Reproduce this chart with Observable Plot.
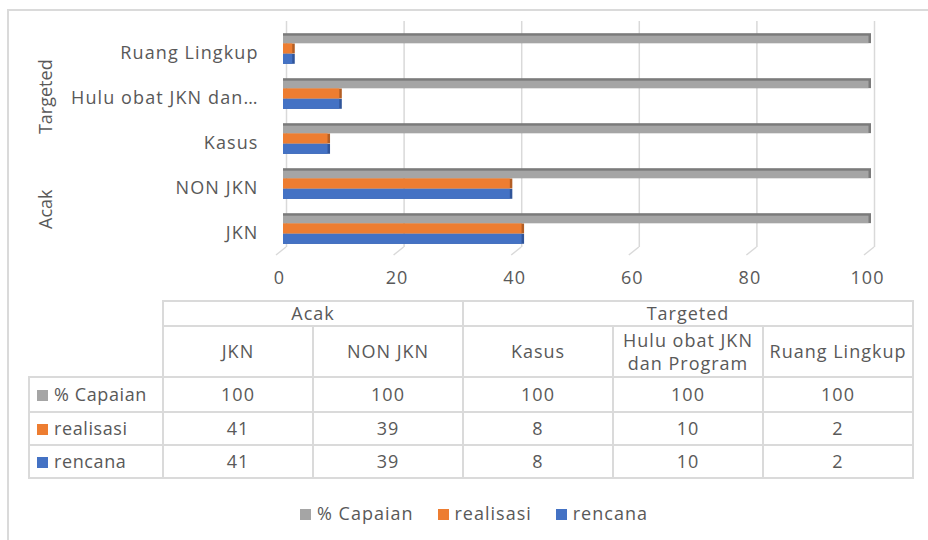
<!DOCTYPE html>
<html><head><meta charset="utf-8">
<script src="https://cdn.jsdelivr.net/npm/d3@7"></script>
<script src="https://cdn.jsdelivr.net/npm/@observablehq/plot@0.6"></script>
<style>
body{margin:0;background:#fff;font-family:"Open Sans",sans-serif;color:#595959;}
#wrap{position:relative;width:928px;height:540px;overflow:hidden;background:#fff}
#frame{position:absolute;left:7px;top:9px;width:1000px;height:1000px;border:2px solid #dadada;box-sizing:border-box}
#chart{position:absolute;left:0;top:0}
#tbl{position:absolute;left:28px;top:300px;border-collapse:collapse;font-size:18px;letter-spacing:1px;table-layout:fixed;color:#595959}
#tbl td{border:2px solid #dadada;text-align:center;padding:0 3px;line-height:23px}
#tbl td.blank{border:none}
#tbl td.lab{text-align:left;padding-left:7px;white-space:nowrap;letter-spacing:0.6px}
.sw{display:inline-block;width:11px;height:11px;margin-right:6px;vertical-align:0px}
#legend{position:absolute;left:300px;top:501px;font-size:18px;letter-spacing:1px;display:flex;gap:24px;white-space:nowrap}
</style></head>
<body>
<div id="wrap">
<div id="frame"></div>
<div id="chart"></div>
<table id="tbl"></table>
<div id="legend"></div>
</div>
<script>
const groups = ["Acak","Acak","Targeted","Targeted","Targeted"];
const categories = ["JKN","NON JKN","Kasus","Hulu obat JKN dan Program","Ruang Lingkup"];
const axisLabels = ["JKN","NON JKN","Kasus","Hulu obat JKN dan…","Ruang Lingkup"];
const series = ["% Capaian","realisasi","rencana"];
const capaian = [100,100,100,100,100];
const realisasi = [41,39,8,10,2];
const rencana = [41,39,8,10,2];
const colors = ["#A5A5A5","#ED7D31","#4472C4"];
const darkColors = ["#7B7B7B","#B35E24","#30559A"];
const xTicks = [0,20,40,60,80,100];

const values = [capaian, realisasi, rencana];
const rows = categories.flatMap((c,i)=>series.map((s,j)=>({category:c, series:s, value:values[j][i]})));

const H = 300, MT = 25, MB = 48;
const band = (H - MT - MB) / categories.length;
const barH = 31 / 3;
const outer = (band - 31) / 2;
const insetFor = j => [outer + j*barH, band - outer - (j+1)*barH];

const barMarks = series.flatMap((s,j)=>{
  const [it, ib] = insetFor(j);
  const data = rows.filter(d=>d.series===s);
  return [
    Plot.barX(data, {x:"value", y:"category", fill:darkColors[j], insetTop:it, insetBottom:ib}),
    Plot.barX(data, {x:"value", y:"category", fill:colors[j], insetTop: it + (j===0?2.5:0), insetBottom:ib, insetRight:2.5})
  ];
});

const diagonals = (index, scales, vals, dim) => {
  const g = d3.create("svg:g").attr("stroke","#d9d9d9").attr("stroke-width",1.5);
  const yb = dim.height - dim.marginBottom - 5;
  for (const t of xTicks) {
    const x = scales.x(t) + 3;
    g.append("line").attr("x1",x).attr("y1",yb).attr("x2",x-10).attr("y2",yb+8);
  }
  return g.node();
};

const groupLabels = (index, scales, vals, dim) => {
  const g = d3.create("svg:g").attr("fill","#595959").attr("font-size",18).attr("letter-spacing","0px");
  const names = [...new Set(groups)];
  for (const n of names) {
    const cs = categories.filter((c,i)=>groups[i]===n);
    const yc = d3.mean(cs, c => scales.y(c) + band/2) + 3;
    g.append("text").attr("transform",`translate(46,${yc}) rotate(-90)`)
      .attr("text-anchor","middle").attr("dy","0.35em").text(n);
  }
  return g.node();
};

const chart = Plot.plot({
  width: 928, height: H,
  marginLeft: 283, marginRight: 57, marginTop: MT, marginBottom: MB,
  style: {fontFamily:"Open Sans, sans-serif", fontSize:"18px", letterSpacing:"1.1px", color:"#595959", background:"transparent"},
  x: {domain:[0,100], label:null},
  y: {domain:[...categories].reverse(), padding:0, label:null},
  marks: [
    Plot.ruleX(xTicks, {stroke:"#d9d9d9", strokeWidth:1.5, insetTop:-4, insetBottom:5, dx:3}),
    diagonals,
    ...barMarks,
    Plot.axisX({ticks:xTicks, tickSize:0, tickPadding:19, dx:-4, label:null, fill:"#595959"}),
    Plot.axisY({tickSize:0, tickPadding:25, dy:4, label:null, fill:"#595959",
      tickFormat: c => axisLabels[categories.indexOf(c)]}),
    groupLabels
  ]
});
document.getElementById("chart").appendChild(chart);

// data table
const tbl = d3.select("#tbl");
const cg = tbl.append("colgroup");
cg.append("col").style("width","134px");
categories.forEach(()=>cg.append("col").style("width","150px"));
const r1 = tbl.append("tr").style("height","25px");
r1.append("td").attr("class","blank");
const gNames = [...new Set(groups)];
gNames.forEach(n=> r1.append("td").attr("colspan", groups.filter(g=>g===n).length).text(n));
const r2 = tbl.append("tr").style("height","51px");
r2.append("td").attr("class","blank");
categories.forEach(c=> r2.append("td").text(c));
series.forEach((s,j)=>{
  const r = tbl.append("tr").style("height", j===0 ? "35px" : "33px");
  const l = r.append("td").attr("class","lab");
  l.append("span").attr("class","sw").style("background",colors[j]);
  l.append("span").text(s);
  values[j].forEach(v=> r.append("td").text(v));
});

// legend
const lg = d3.select("#legend");
series.forEach((s,j)=>{
  const it = lg.append("span");
  it.append("span").attr("class","sw").style("background",colors[j]);
  it.append("span").text(s);
});
</script>
</body></html>
